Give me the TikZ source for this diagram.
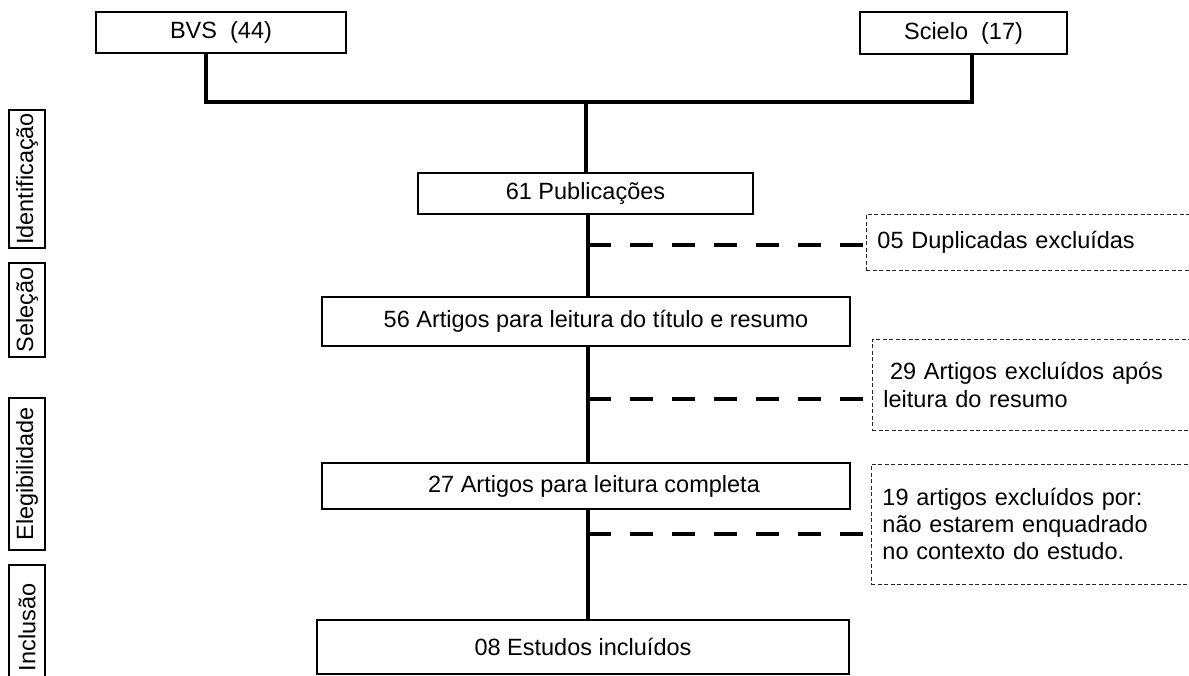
\documentclass[tikz,border=0pt]{standalone}
\usepackage{fontspec}
\setmainfont{Liberation Sans}
\begin{document}
\begin{tikzpicture}[x=1pt,y=-1pt,
  txt/.style={font=\fontsize{23.5}{28}\selectfont},
  box/.style={txt, draw=black, line width=1.1pt, fill=white, inner sep=0pt},
  side/.style={box, rotate=90, minimum height=36pt},
  note/.style={txt, draw=black!85, line width=0.9pt, dash pattern=on 4pt off 2.5pt,
    inner xsep=11pt, inner ysep=0pt, align=left, anchor=west, text width=320pt},
  conn/.style={line width=3.5pt},
  excl/.style={line width=3.5pt, dash pattern=on 23pt off 19pt}]
\clip (0,0) rectangle (1189,675);
\fill[white] (0,0) rectangle (1189,675);
% sources
\node[box, minimum width=250pt, minimum height=41pt] (bvs) at (221,32.5) {BVS\ \ (44)};
\node[box, minimum width=207pt, minimum height=42pt] (scielo) at (963.5,33) {Scielo\ \ (17)};
% main flow
\node[box, minimum width=335pt, minimum height=41pt] (pub) at (585.5,193.5) {61 Publicações};
\node[box, minimum width=528pt, minimum height=49pt] (art56) at (586,321.5) {\hspace*{20pt}56 Artigos para leitura do título e resumo};
\node[box, minimum width=528pt, minimum height=46pt] (art27) at (586,486) {\hspace*{16pt}27 Artigos para leitura completa};
\node[box, minimum width=532pt, minimum height=54pt] (est08) at (583,647) {08 Estudos incluídos};
% exclusions
\node[note, minimum height=56pt] (dup) at (866,242) {05 Duplicadas excluídas};
\node[note, minimum height=91pt] (res) at (872,384.5) {\hspace*{0.28em}29 Artigos excluídos após\\leitura do resumo};
\node[note, minimum height=120pt, font=\fontsize{23.5}{27}\selectfont] (ctx) at (871,524) {19 artigos excluídos por:\\não estarem enquadrado\\no contexto do estudo.};
% phase labels
\node[side, minimum width=138pt] (ident) at (27,179) {Identificação};
\node[side, minimum width=94pt] (sel) at (27,310) {Seleção};
\node[side, minimum width=152pt] (eleg) at (27,474) {Elegibilidade};
\node[side, minimum width=125pt] (incl) at (27,627.5) {Inclusão};
% connectors
\coordinate (jl) at (206,102);
\coordinate (jr) at (972,102);
\coordinate (jm) at (586,102);
\coordinate (t) at (588,0);
\draw[conn] (bvs.south -| jl) -- (jl) -- (jr) -- (scielo.south -| jr);
\draw[conn] (jm) -- (pub.north -| jm);
\draw[conn] (pub.south -| t) -- (art56.north -| t);
\draw[conn] (art56.south -| t) -- (art27.north -| t);
\draw[conn] (art27.south -| t) -- (est08.north -| t);
\coordinate (d1) at (588,245);
\coordinate (d2) at (588,399);
\coordinate (d3) at (588,534);
\draw[excl] (d1) -- (dup.west |- d1);
\draw[excl] (d2) -- (res.west |- d2);
\draw[excl] (d3) -- (ctx.west |- d3);
\end{tikzpicture}
\end{document}
